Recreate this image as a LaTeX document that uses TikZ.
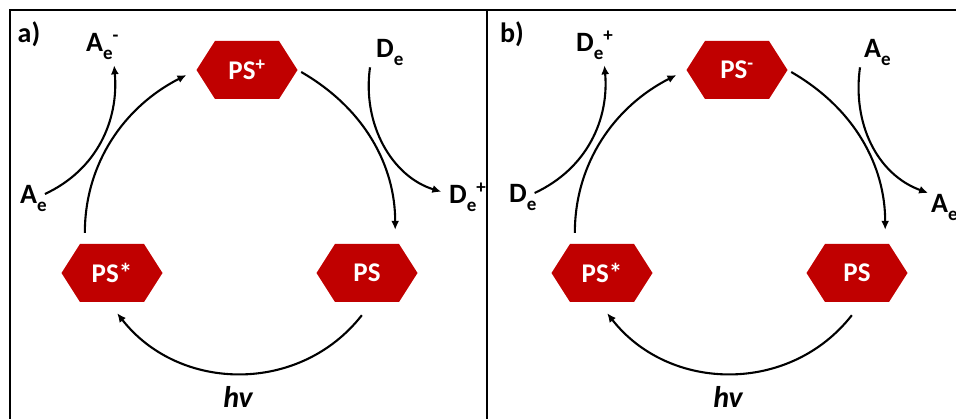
\documentclass[tikz,border=0pt]{standalone}
\usepackage{fontspec}
\setmainfont{Carlito}
\usetikzlibrary{arrows.meta,shapes.symbols}

\newcommand{\subtxt}[1]{\raisebox{-8pt}{\fontsize{19}{19}\selectfont #1}}
\newcommand{\suptxt}[1]{\raisebox{10pt}{\fontsize{19}{19}\selectfont #1}}

\begin{document}
\begin{tikzpicture}[x=1pt, y=1pt, >={Latex[length=9pt,width=8pt]}]

\definecolor{psred}{RGB}{192, 0, 0}

\tikzset{
  psbox/.style={signal, signal to=west and east, signal pointer angle=115,
    fill=psred, text=white, inner sep=0pt, minimum width=101pt, minimum height=58pt,
    font=\fontsize{27}{30}\selectfont\bfseries},
  species/.style={anchor=base west, inner sep=1pt, font=\fontsize{28}{30}\selectfont\bfseries},
  hvtext/.style={font=\fontsize{30}{32}\selectfont\bfseries\itshape},
  tagtext/.style={font=\fontsize{28}{30}\selectfont\bfseries},
  cyclearrow/.style={->, line width=2.1pt},
}

\useasboundingbox (0,0) rectangle (956,-419);

\draw[line width=1.4pt] (10,-419) -- (10,-10) -- (956,-10);
\draw[line width=1.4pt] (487,-10) -- (487,-419);

% a) oxidative quenching
\node[tagtext] (a-tag) at (29,-34) {a)};

\node[psbox] (a-psplus) at (247,-70) {PS\textsuperscript{+}};
\node[psbox] (a-psstar) at (112,-273) {PS*};
\node[psbox] (a-ps) at (367,-273) {PS};

\node[species] (a-aem) at (85,-52) {A\subtxt{e}\suptxt{-}};
\node[species] (a-de) at (375,-58) {D\subtxt{e}};
\node[species] (a-ae) at (19,-204) {A\subtxt{e}};
\node[species] (a-dep) at (448,-204) {D\subtxt{e}\suptxt{+}};
\node[hvtext] (a-hv) at (238,-397) {hv};

\draw[cyclearrow, shorten <=11pt, shorten >=11pt] (a-psstar.133) to[out=90, in=207] (a-psplus.west);
\draw[cyclearrow, shorten <=4pt, shorten >=14pt] (a-psplus.east) to[out=-30, in=90] (a-ps.46);
\draw[cyclearrow] ([yshift=-13pt]a-ps.-100) to[out=-128, in=-52, looseness=1.05] ([yshift=-11pt]a-psstar.-80);
\draw[cyclearrow, shorten >=4pt] ([xshift=-3pt, yshift=5pt]a-ae.east) to[out=25, in=-85] ([xshift=-6pt]a-aem.south east);
\draw[cyclearrow, shorten >=7pt] ([xshift=-5pt]a-de.south west) to[out=-98, in=163] ([yshift=4pt]a-dep.west);

% b) reductive quenching
\node[tagtext] (b-tag) at (512,-34) {b)};

\node[psbox] (b-psminus) at (737,-70) {PS\textsuperscript{-}};
\node[psbox] (b-psstar) at (602,-273) {PS*};
\node[psbox] (b-ps) at (857,-273) {PS};

\node[species] (b-dep) at (575,-52) {D\subtxt{e}\suptxt{+}};
\node[species] (b-ae) at (863,-58) {A\subtxt{e}};
\node[species] (b-de) at (508,-203) {D\subtxt{e}};
\node[species] (b-aer) at (930,-213) {A\subtxt{e}};
\node[hvtext] (b-hv) at (728,-397) {hv};

\draw[cyclearrow, shorten <=11pt, shorten >=11pt] (b-psstar.133) to[out=90, in=207] (b-psminus.west);
\draw[cyclearrow, shorten <=4pt, shorten >=14pt] (b-psminus.east) to[out=-30, in=90] (b-ps.46);
\draw[cyclearrow] ([yshift=-13pt]b-ps.-100) to[out=-128, in=-52, looseness=1.05] ([yshift=-11pt]b-psstar.-80);
\draw[cyclearrow, shorten >=4pt] ([xshift=-3pt, yshift=5pt]b-de.east) to[out=25, in=-85] ([xshift=-10pt]b-dep.south east);
\draw[cyclearrow, shorten >=2pt] ([xshift=-3pt]b-ae.south west) to[out=-98, in=160] (b-aer.north west);

\end{tikzpicture}
\end{document}
